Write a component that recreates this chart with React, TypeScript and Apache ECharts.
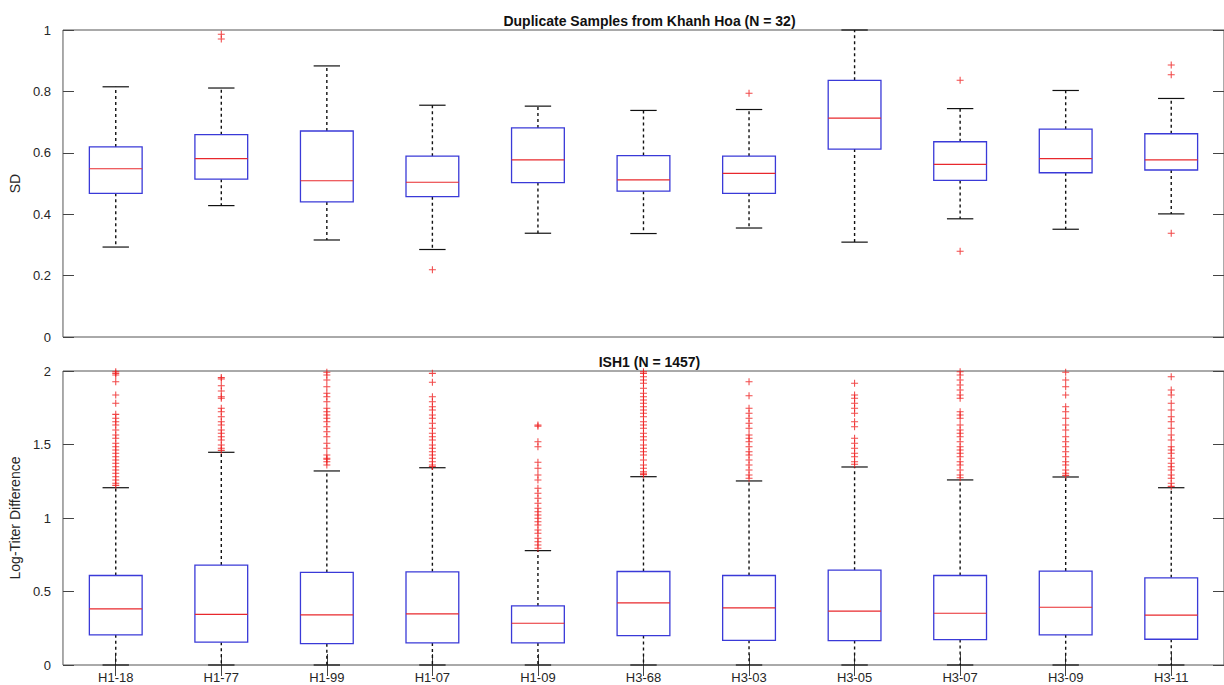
import React, { useEffect, useRef } from "react";
import * as echarts from "echarts";

const categories = ["H1-18", "H1-77", "H1-99", "H1-07", "H1-09", "H3-68", "H3-03", "H3-05", "H3-07", "H3-09", "H3-11"];

// Top panel: SD of duplicate samples
const sdLow = [0.293, 0.428, 0.316, 0.285, 0.338, 0.337, 0.355, 0.309, 0.385, 0.351, 0.401];
const sdQ1 = [0.468, 0.514, 0.44, 0.457, 0.503, 0.475, 0.468, 0.612, 0.51, 0.535, 0.544];
const sdMedian = [0.548, 0.581, 0.509, 0.504, 0.577, 0.512, 0.533, 0.713, 0.562, 0.581, 0.577];
const sdQ3 = [0.619, 0.659, 0.671, 0.589, 0.681, 0.591, 0.589, 0.836, 0.636, 0.677, 0.662];
const sdHigh = [0.815, 0.811, 0.883, 0.755, 0.752, 0.738, 0.741, 1.0, 0.744, 0.803, 0.777];
const sdOutliers = [[], [0.986, 0.971], [], [0.219], [], [], [0.794], [], [0.836, 0.279], [], [0.886, 0.854, 0.338]];

// Bottom panel: log-titer difference
const ltLow = [0, 0, 0, 0, 0, 0, 0, 0, 0, 0, 0];
const ltQ1 = [0.205, 0.155, 0.145, 0.15, 0.15, 0.2, 0.168, 0.166, 0.173, 0.205, 0.175];
const ltMedian = [0.382, 0.345, 0.341, 0.348, 0.284, 0.423, 0.389, 0.366, 0.352, 0.393, 0.339];
const ltQ3 = [0.609, 0.68, 0.63, 0.634, 0.402, 0.636, 0.609, 0.645, 0.609, 0.639, 0.593];
const ltHigh = [1.206, 1.447, 1.32, 1.342, 0.778, 1.281, 1.252, 1.347, 1.259, 1.279, 1.206];
const ltOutliers = [
  [1.995, 1.984, 1.973, 1.927, 1.837, 1.78, 1.705, 1.678, 1.655, 1.633, 1.599, 1.565, 1.542, 1.508, 1.485, 1.463, 1.44, 1.417, 1.395, 1.372, 1.349, 1.327, 1.304, 1.281, 1.259, 1.236, 1.222],
  [1.955, 1.946, 1.9, 1.864, 1.825, 1.814, 1.746, 1.723, 1.689, 1.655, 1.633, 1.599, 1.576, 1.553, 1.531, 1.497, 1.474, 1.46],
  [1.991, 1.973, 1.939, 1.893, 1.848, 1.825, 1.791, 1.746, 1.723, 1.701, 1.678, 1.655, 1.621, 1.587, 1.553, 1.508, 1.474, 1.429, 1.406, 1.4, 1.383, 1.361],
  [1.984, 1.923, 1.825, 1.791, 1.757, 1.735, 1.701, 1.678, 1.644, 1.61, 1.576, 1.553, 1.531, 1.497, 1.474, 1.451, 1.429, 1.406, 1.383, 1.361, 1.35],
  [1.633, 1.625, 1.519, 1.485, 1.379, 1.338, 1.293, 1.259, 1.202, 1.168, 1.134, 1.1, 1.066, 1.043, 1.02, 0.998, 0.975, 0.952, 0.918, 0.896, 0.862, 0.839, 0.816, 0.794],
  [1.995, 1.984, 1.961, 1.939, 1.916, 1.882, 1.848, 1.825, 1.803, 1.78, 1.757, 1.735, 1.712, 1.689, 1.655, 1.633, 1.61, 1.576, 1.553, 1.531, 1.497, 1.474, 1.451, 1.429, 1.395, 1.361, 1.338, 1.315, 1.304, 1.295],
  [1.927, 1.832, 1.746, 1.712, 1.678, 1.644, 1.61, 1.565, 1.542, 1.519, 1.485, 1.451, 1.429, 1.395, 1.361, 1.327, 1.293, 1.27],
  [1.916, 1.837, 1.814, 1.78, 1.746, 1.712, 1.655, 1.621, 1.542, 1.508, 1.474, 1.44, 1.417, 1.383, 1.365],
  [1.995, 1.973, 1.939, 1.905, 1.871, 1.837, 1.814, 1.723, 1.701, 1.678, 1.633, 1.599, 1.576, 1.553, 1.519, 1.485, 1.463, 1.44, 1.417, 1.383, 1.361, 1.327, 1.293, 1.274],
  [1.991, 1.939, 1.893, 1.837, 1.757, 1.723, 1.678, 1.633, 1.599, 1.553, 1.519, 1.485, 1.451, 1.417, 1.383, 1.361, 1.327, 1.304, 1.29],
  [1.961, 1.871, 1.837, 1.78, 1.735, 1.689, 1.655, 1.61, 1.565, 1.531, 1.485, 1.463, 1.44, 1.406, 1.372, 1.349, 1.327, 1.293, 1.27, 1.236, 1.215],
];

const sdTicks = [0, 0.2, 0.4, 0.6, 0.8, 1];
const ltTicks = [0, 0.5, 1, 1.5, 2];

const FONT = "Liberation Sans, Arial, Helvetica, sans-serif";
const BOX_COLOR = "#3a3ad8";
const MED_COLOR = "#e8282d";
const OUT_COLOR = "#ee1c1c";
const PLUS = "path://M4.25,0H5.75V4.25H10V5.75H5.75V10H4.25V5.75H0V4.25H4.25Z";

function boxData(low: number[], q1: number[], med: number[], q3: number[], high: number[]) {
  return categories.map((_, i) => [i, low[i], q1[i], med[i], q3[i], high[i]]);
}
function outlierData(out: number[][]) {
  const res: number[][] = [];
  out.forEach((arr, i) => arr.forEach((v) => res.push([i, v])));
  return res;
}

function renderBox(params: any, api: any) {
  const i = api.value(0);
  const bw = api.size([1, 0])[0];
  const half = bw * 0.25;
  const cap = bw * 0.125;
  const pLow = api.coord([i, api.value(1)]);
  const pQ1 = api.coord([i, api.value(2)]);
  const pMed = api.coord([i, api.value(3)]);
  const pQ3 = api.coord([i, api.value(4)]);
  const pHigh = api.coord([i, api.value(5)]);
  const x = pLow[0];
  const dash = { stroke: "#111", lineWidth: 1.4, lineDash: [3, 3] };
  const solid = { stroke: "#111", lineWidth: 1.2 };
  return {
    type: "group",
    children: [
      { type: "line", shape: { x1: x, y1: pQ3[1], x2: x, y2: pHigh[1] }, style: dash },
      { type: "line", shape: { x1: x, y1: pQ1[1], x2: x, y2: pLow[1] }, style: dash },
      { type: "line", shape: { x1: x - cap, y1: pHigh[1], x2: x + cap, y2: pHigh[1] }, style: solid },
      { type: "line", shape: { x1: x - cap, y1: pLow[1], x2: x + cap, y2: pLow[1] }, style: solid },
      {
        type: "rect",
        shape: { x: x - half, y: pQ3[1], width: half * 2, height: pQ1[1] - pQ3[1] },
        style: { fill: "#fff", stroke: BOX_COLOR, lineWidth: 1.3 },
      },
      { type: "line", shape: { x1: x - half, y1: pMed[1], x2: x + half, y2: pMed[1] }, style: { stroke: MED_COLOR, lineWidth: 1.2 } },
    ],
  };
}

export default function App() {
  const ref = useRef<HTMLDivElement>(null);
  useEffect(() => {
    if (!ref.current) return;
    const chart = echarts.init(ref.current, null, { renderer: "svg" });
    const gridW = 1171;
    const labelStyle = { color: "#262626", fontSize: 13, fontFamily: FONT };
    const tickStyle = { lineStyle: { color: "#444", width: 1 } };
    const yCommon = (min: number, max: number, interval: number) => ({
      type: "value",
      min,
      max,
      interval,
      splitLine: { show: false },
    });
    const option: any = {
      animation: false,
      backgroundColor: "#fff",
      title: [
        {
          text: "Duplicate Samples from Khanh Hoa (N = 32)",
          left: 59 + gridW / 2,
          textAlign: "center",
          top: 9,
          textStyle: { fontSize: 14, fontWeight: "bold", color: "#111", fontFamily: FONT },
        },
        {
          text: "ISH1 (N = 1457)",
          left: 59 + gridW / 2,
          textAlign: "center",
          top: 350,
          textStyle: { fontSize: 14, fontWeight: "bold", color: "#111", fontFamily: FONT },
        },
      ],
      grid: [
        { left: 59, top: 30, width: gridW, height: 307, show: true, borderColor: "#555", borderWidth: 1, backgroundColor: "transparent" },
        { left: 59, top: 371, width: gridW, height: 294, show: true, borderColor: "#555", borderWidth: 1, backgroundColor: "transparent" },
      ],
      xAxis: [
        { type: "category", data: categories, gridIndex: 0, boundaryGap: true, axisLine: { show: false }, axisTick: { show: false }, axisLabel: { show: false } },
        {
          type: "category",
          data: categories,
          gridIndex: 1,
          boundaryGap: true,
          axisLine: { show: false },
          axisTick: { show: true, inside: true, alignWithLabel: true, length: 11, ...tickStyle },
          axisLabel: { ...labelStyle, margin: 6 },
        },
        {
          type: "category",
          data: categories,
          gridIndex: 1,
          position: "top",
          boundaryGap: true,
          axisLine: { show: false },
          axisTick: { show: true, inside: true, alignWithLabel: true, length: 11, ...tickStyle },
          axisLabel: { show: false },
        },
      ],
      yAxis: [
        {
          ...yCommon(sdTicks[0], sdTicks[sdTicks.length - 1], sdTicks[1] - sdTicks[0]),
          gridIndex: 0,
          name: "SD",
          nameLocation: "middle",
          nameGap: 32,
          nameTextStyle: { fontSize: 14, color: "#262626", fontFamily: FONT },
          axisLine: { show: false },
          axisTick: { show: true, inside: true, length: 11, ...tickStyle },
          axisLabel: { ...labelStyle, margin: 12 },
        },
        {
          ...yCommon(sdTicks[0], sdTicks[sdTicks.length - 1], sdTicks[1] - sdTicks[0]),
          gridIndex: 0,
          position: "right",
          axisLine: { show: false },
          axisTick: { show: true, inside: true, length: 11, ...tickStyle },
          axisLabel: { show: false },
        },
        {
          ...yCommon(ltTicks[0], ltTicks[ltTicks.length - 1], ltTicks[1] - ltTicks[0]),
          gridIndex: 1,
          name: "Log-Titer Difference",
          nameLocation: "middle",
          nameGap: 32,
          nameTextStyle: { fontSize: 14, color: "#262626", fontFamily: FONT },
          axisLine: { show: false },
          axisTick: { show: true, inside: true, length: 11, ...tickStyle },
          axisLabel: { ...labelStyle, margin: 12 },
        },
        {
          ...yCommon(ltTicks[0], ltTicks[ltTicks.length - 1], ltTicks[1] - ltTicks[0]),
          gridIndex: 1,
          position: "right",
          axisLine: { show: false },
          axisTick: { show: true, inside: true, length: 11, ...tickStyle },
          axisLabel: { show: false },
        },
      ],
      series: [
        {
          type: "custom",
          xAxisIndex: 0,
          yAxisIndex: 0,
          renderItem: renderBox,
          encode: { x: 0, y: [1, 2, 3, 4, 5] },
          data: boxData(sdLow, sdQ1, sdMedian, sdQ3, sdHigh),
          z: 2,
        },
        {
          type: "scatter",
          xAxisIndex: 0,
          yAxisIndex: 0,
          symbol: PLUS,
          symbolSize: 7,
          itemStyle: { color: OUT_COLOR },
          data: outlierData(sdOutliers),
          z: 3,
        },
        {
          type: "custom",
          xAxisIndex: 1,
          yAxisIndex: 2,
          renderItem: renderBox,
          encode: { x: 0, y: [1, 2, 3, 4, 5] },
          data: boxData(ltLow, ltQ1, ltMedian, ltQ3, ltHigh),
          z: 2,
        },
        {
          type: "scatter",
          xAxisIndex: 1,
          yAxisIndex: 2,
          symbol: PLUS,
          symbolSize: 7,
          itemStyle: { color: OUT_COLOR },
          data: outlierData(ltOutliers),
          z: 3,
        },
      ],
    };
    chart.setOption(option);
    return () => chart.dispose();
  }, []);
  return <div ref={ref} style={{ position: "absolute", left: 0, top: 0, width: 1224, height: 685 }} />;
}
